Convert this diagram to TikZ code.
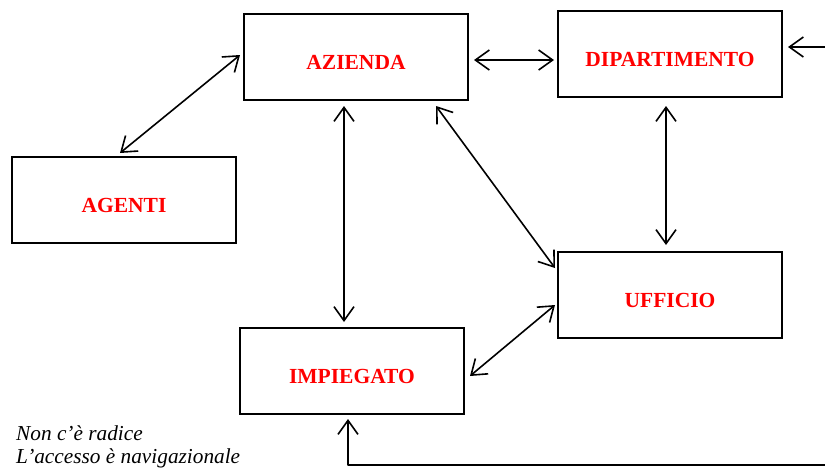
\documentclass[tikz,border=0pt]{standalone}
\usepackage{fontspec}
\setmainfont{Liberation Serif}
\usetikzlibrary{arrows.meta,calc}
\tikzset{vbarb/.tip={Straight Barb[length=14pt,width=20pt,line width=1.6pt]}}
\begin{document}
\begin{tikzpicture}[x=1pt,y=-1pt,
  box/.style={draw=black,line width=2pt,minimum width=224pt,minimum height=86pt,inner sep=0pt},
  lbl/.style={text=red,font=\fontsize{21.5}{24}\selectfont\bfseries},
  conn/.style={line width=1.6pt,line join=round,line cap=round},
  both/.style={conn,vbarb-vbarb},
  single/.style={conn,-vbarb},
  note/.style={font=\fontsize{21.3}{23}\selectfont\itshape,anchor=base west,inner sep=0pt}]
\useasboundingbox (0,0) rectangle (825,467);
\node[box,label={[lbl,yshift=-5pt]center:AZIENDA}] (azienda) at (356,57) {};
\node[box,label={[lbl,yshift=-5pt]center:DIPARTIMENTO}] (dip) at (670,54) {};
\node[box,label={[lbl,yshift=-5pt]center:AGENTI}] (agenti) at (124,200) {};
\node[box,label={[lbl,yshift=-5pt]center:UFFICIO}] (ufficio) at (670,295) {};
\node[box,label={[lbl,yshift=-5pt]center:IMPIEGATO}] (impiegato) at (352,371) {};
\node[note] (note1) at (16,440) {Non c’è radice};
\node[note] (note2) at (16,463) {L’accesso è navigazionale};
\coordinate (inR) at (825,47);
\coordinate (inB) at (825,465);
% connectors
\draw[both] ($(azienda.west)+(-3,-2)$) -- ($(agenti.north)+(-4,-3)$);
\draw[both] ($(azienda.east)+(5,3)$) -- ($(dip.west)+(-3,6)$);
\draw[single] (inR) -- ($(dip.east)+(5,-7)$);
\draw[both] ($(azienda.south)+(-12,5)$) -- ($(impiegato.north)+(-8,-5)$);
\draw[both] ($(azienda.south east)+(-33,5)$) -- ($(ufficio.north west)+(-2,17)$);
\draw[both] ($(dip.south)+(-4,8)$) -- ($(ufficio.north)+(-4,-6)$);
\draw[both] ($(ufficio.west)+(-2,10)$) -- ($(impiegato.east)+(5,5)$);
\draw[single] (inB) -| ($(impiegato.south)+(-4,4)$);
\end{tikzpicture}
\end{document}
